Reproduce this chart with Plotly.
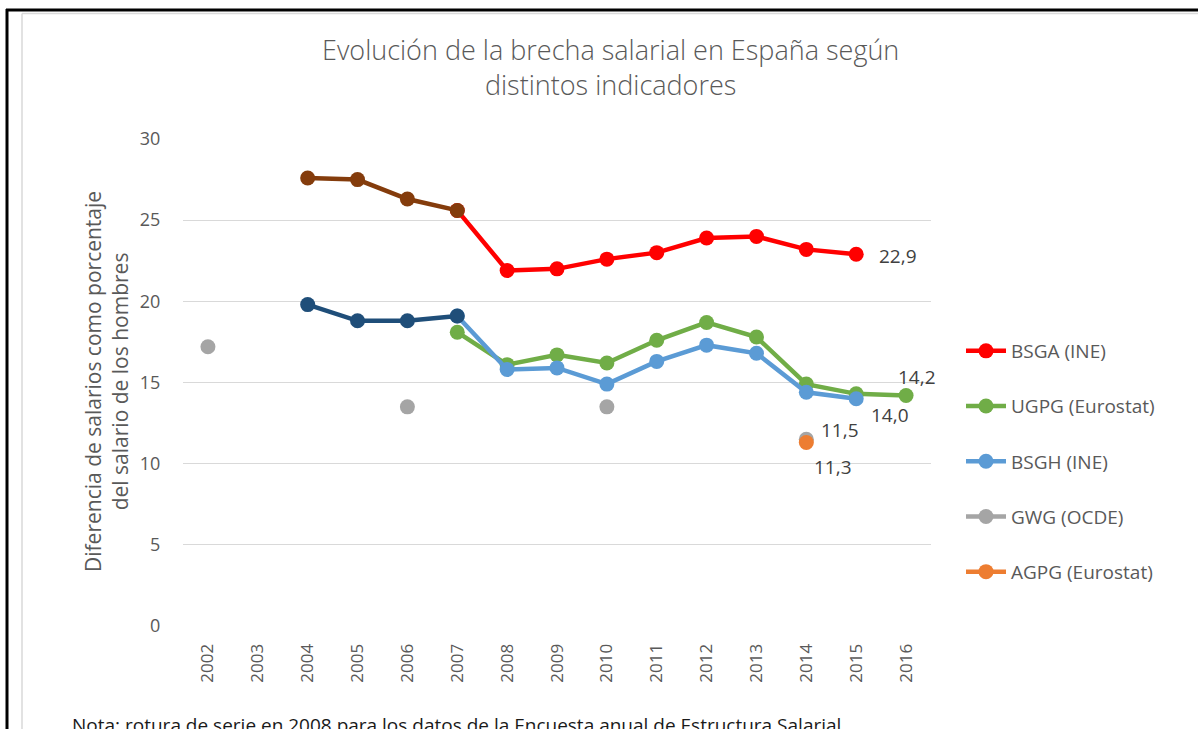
import plotly.graph_objects as go

# ---------------- data ----------------
years = [str(y) for y in range(2002, 2017)]

# BSGA (INE) – old series (2004-2007) and new series (2007-2015)
bsga_old_years = ["2004", "2005", "2006", "2007"]
bsga_old = [27.6, 27.5, 26.3, 25.6]
bsga_years = ["2007", "2008", "2009", "2010", "2011", "2012", "2013", "2014", "2015"]
bsga = [25.6, 21.9, 22.0, 22.6, 23.0, 23.9, 24.0, 23.2, 22.9]

# BSGH (INE) – old series and new series
bsgh_old_years = ["2004", "2005", "2006", "2007"]
bsgh_old = [19.8, 18.8, 18.8, 19.1]
bsgh_years = ["2007", "2008", "2009", "2010", "2011", "2012", "2013", "2014", "2015"]
bsgh = [19.1, 15.8, 15.9, 14.9, 16.3, 17.3, 16.8, 14.4, 14.0]

# UGPG (Eurostat)
ugpg_years = ["2007", "2008", "2009", "2010", "2011", "2012", "2013", "2014", "2015", "2016"]
ugpg = [18.1, 16.1, 16.7, 16.2, 17.6, 18.7, 17.8, 14.9, 14.3, 14.2]

# GWG (OCDE) – isolated observations (gaps in between)
gwg = [17.2, None, None, None, 13.5, None, None, None, 13.5, None, None, None, 11.5, None, None]

# AGPG (Eurostat)
agpg_years = ["2014"]
agpg = [11.3]

y_ticks = [0, 5, 10, 15, 20, 25, 30]

title_text = "Evolución de la brecha salarial en España según<br>distintos indicadores"
y_title = "Diferencia de salarios como porcentaje<br>del salario de los hombres"
note_text = "Nota: rotura de serie en 2008 para los datos de la Encuesta anual de Estructura Salarial"

# ---------------- styling ----------------
FONT = "Open Sans"
TXT = "#595959"
RED, BROWN = "#ff0000", "#843c0c"
BLUE, NAVY = "#5b9bd5", "#1f4e79"
GREEN, GRAY, ORANGE = "#70ad47", "#a5a5a5", "#ed7d31"
LW, MS = 4.5, 15

W, H = 1198, 729
L, R, T, B = 183, 931, 139, 626   # plot area in pixels


def px(xp):
    return (xp - L) / (R - L)


def py(yp):
    return (B - yp) / (B - T)


def fmt(v):
    return f"{v:.1f}".replace(".", ",")


fig = go.Figure()


def add_line(xs, ys, color, name, group, legend=True):
    fig.add_trace(go.Scatter(
        x=xs, y=ys, mode="lines+markers", name=name,
        line=dict(color=color, width=LW),
        marker=dict(color=color, size=MS),
        legendgroup=group, showlegend=legend, connectgaps=False,
        hoverinfo="x+y+name",
    ))


add_line(bsga_years, bsga, RED, "BSGA (INE)", "g1")
add_line(ugpg_years, ugpg, GREEN, "UGPG (Eurostat)", "g2")
add_line(bsgh_years, bsgh, BLUE, "BSGH (INE)", "g3")
add_line(years, gwg, GRAY, "GWG (OCDE)", "g4")
add_line(agpg_years, agpg, ORANGE, "AGPG (Eurostat)", "g5")
add_line(bsga_old_years, bsga_old, BROWN, "BSGA (INE) 2004-2007", "g1", legend=False)
add_line(bsgh_old_years, bsgh_old, NAVY, "BSGH (INE) 2004-2007", "g3", legend=False)

# data labels (category index used for x)
gwg_last_i = max(i for i, v in enumerate(gwg) if v is not None)
labels = [
    (years.index(bsga_years[-1]), bsga[-1], 42, -2),
    (years.index(ugpg_years[-1]), ugpg[-1], 11, 18),
    (years.index(bsgh_years[-1]), bsgh[-1], 34, -16),
    (gwg_last_i, gwg[gwg_last_i], 34, 9),
    (years.index(agpg_years[-1]), agpg[-1], 27, -24),
]
for xi, yv, dx, dy in labels:
    fig.add_annotation(x=xi, y=yv, text=fmt(yv), showarrow=False,
                       xshift=dx, yshift=dy,
                       font=dict(family=FONT, size=19, color="#404040"))

# title
fig.add_annotation(xref="paper", yref="paper", x=px(610), y=py(67),
                   text=title_text, showarrow=False, xanchor="center", yanchor="middle",
                   font=dict(family=FONT, size=27, color=TXT, weight=300))

# y-axis title
fig.add_annotation(xref="paper", yref="paper", x=px(106), y=py(382),
                   text=y_title, showarrow=False, textangle=-90,
                   xanchor="center", yanchor="middle",
                   font=dict(family=FONT, size=21, color=TXT))

# note
fig.add_annotation(xref="paper", yref="paper", x=px(70), y=py(710),
                   text=note_text, showarrow=False, xanchor="left", yanchor="top",
                   font=dict(family=FONT, size=19, color="#1a1a1a"))

# frames (screenshot borders)
shapes = [
    dict(type="line", xref="paper", yref="paper", x0=px(22), x1=px(1200), y0=py(13.5), y1=py(13.5),
         line=dict(color="#d9d9d9", width=1.5)),
    dict(type="line", xref="paper", yref="paper", x0=px(22), x1=px(22), y0=py(13.5), y1=py(735),
         line=dict(color="#d9d9d9", width=1.5)),
    dict(type="line", xref="paper", yref="paper", x0=px(6), x1=px(1200), y0=py(10), y1=py(10),
         line=dict(color="#000000", width=3)),
    dict(type="line", xref="paper", yref="paper", x0=px(7), x1=px(7), y0=py(9), y1=py(735),
         line=dict(color="#000000", width=3)),
]

fig.update_layout(
    width=W, height=H,
    margin=dict(l=L, r=W - R, t=T, b=H - B, autoexpand=False),
    paper_bgcolor="white", plot_bgcolor="white",
    font=dict(family=FONT, size=18, color=TXT),
    shapes=shapes,
    showlegend=True,
    legend=dict(x=px(961), y=py(332), xanchor="left", yanchor="top",
                font=dict(family=FONT, size=19, color=TXT),
                tracegroupgap=27.5, bgcolor="rgba(0,0,0,0)", itemwidth=40),
    xaxis=dict(type="category", categoryorder="array", categoryarray=years,
               range=[-0.5, len(years) - 0.5], tickangle=-90,
               showgrid=False, showline=False, zeroline=False,
               ticks="outside", ticklen=10, tickcolor="rgba(0,0,0,0)",
               tickfont=dict(family=FONT, size=17, color=TXT), fixedrange=True),
    yaxis=dict(range=[0, 30], tickvals=y_ticks, showgrid=True, gridcolor="#d9d9d9",
               gridwidth=1.3, zeroline=False, showline=False,
               ticks="outside", ticklen=18, tickcolor="rgba(0,0,0,0)",
               tickfont=dict(family=FONT, size=18, color=TXT), fixedrange=True),
    hovermode="closest",
)

fig.write_html("out.html", config={"displayModeBar": False},
               post_script="document.body.style.margin='0';")
